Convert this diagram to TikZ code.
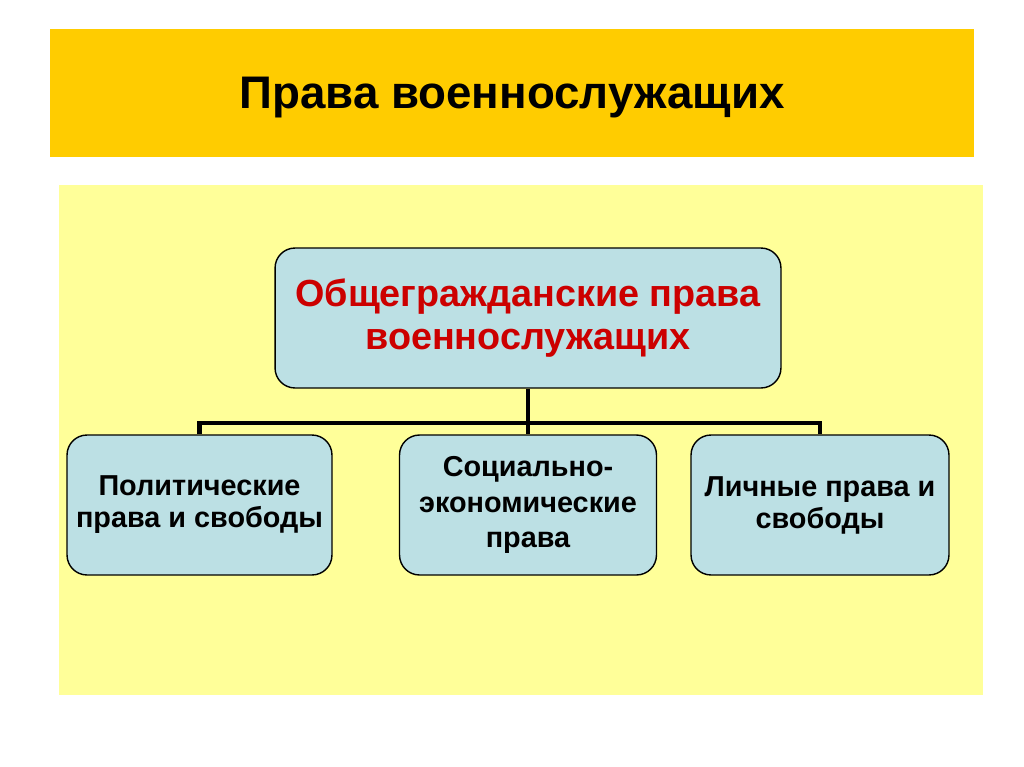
\documentclass[tikz,border=0pt]{standalone}
\usepackage{fontspec}
\setmainfont{Liberation Sans}
\usepackage{xcolor}
\definecolor{titlegold}{RGB}{255,204,0}
\definecolor{panelyellow}{RGB}{255,255,153}
\definecolor{boxblue}{RGB}{188,224,228}
\definecolor{darkred}{RGB}{204,0,0}

\begin{document}
\begin{tikzpicture}[x=0.02cm, y=-0.02cm,
  bluebox/.style={draw=black, line width=0.8pt, fill=boxblue, rounded corners=0.4cm, align=center, inner sep=0pt, minimum height=2.8cm},
  topbox/.style={bluebox, text=darkred, font=\bfseries\fontsize{21.5}{24}\selectfont},
  childbox/.style={bluebox, font=\bfseries\fontsize{16.4}{18.2}\selectfont},
  busline/.style={line width=2.8pt}]
\useasboundingbox (0,0) rectangle (1024,767);
\fill[white] (0,0) rectangle (1024,767);
\fill[titlegold] (50,29) rectangle (974,157);
\fill[panelyellow] (59,185) rectangle (983,695);
\node[anchor=base, font=\bfseries\fontsize{26}{30}\selectfont] at (512,109) (title) {Права военнослужащих};
\node[topbox, minimum width=10.12cm] at (528,318) (top) {Общегражданские права\\военнослужащих};
\node[childbox, minimum width=5.3cm] at (199.5,505) (left) {Политические\\права и свободы};
\node[childbox, minimum width=5.14cm, font=\bfseries\fontsize{16.4}{20.2}\selectfont] at (528,505) (mid) {Социально-\\экономические\\права};
\node[childbox, minimum width=5.16cm] at (820,505) (right) {Личные права и\\свободы};
\coordinate (bus) at (528,423);
\draw[busline] (top.south) -- (mid.north);
\draw[busline] (left.north) |- (bus) -| (right.north);
\end{tikzpicture}
\end{document}
